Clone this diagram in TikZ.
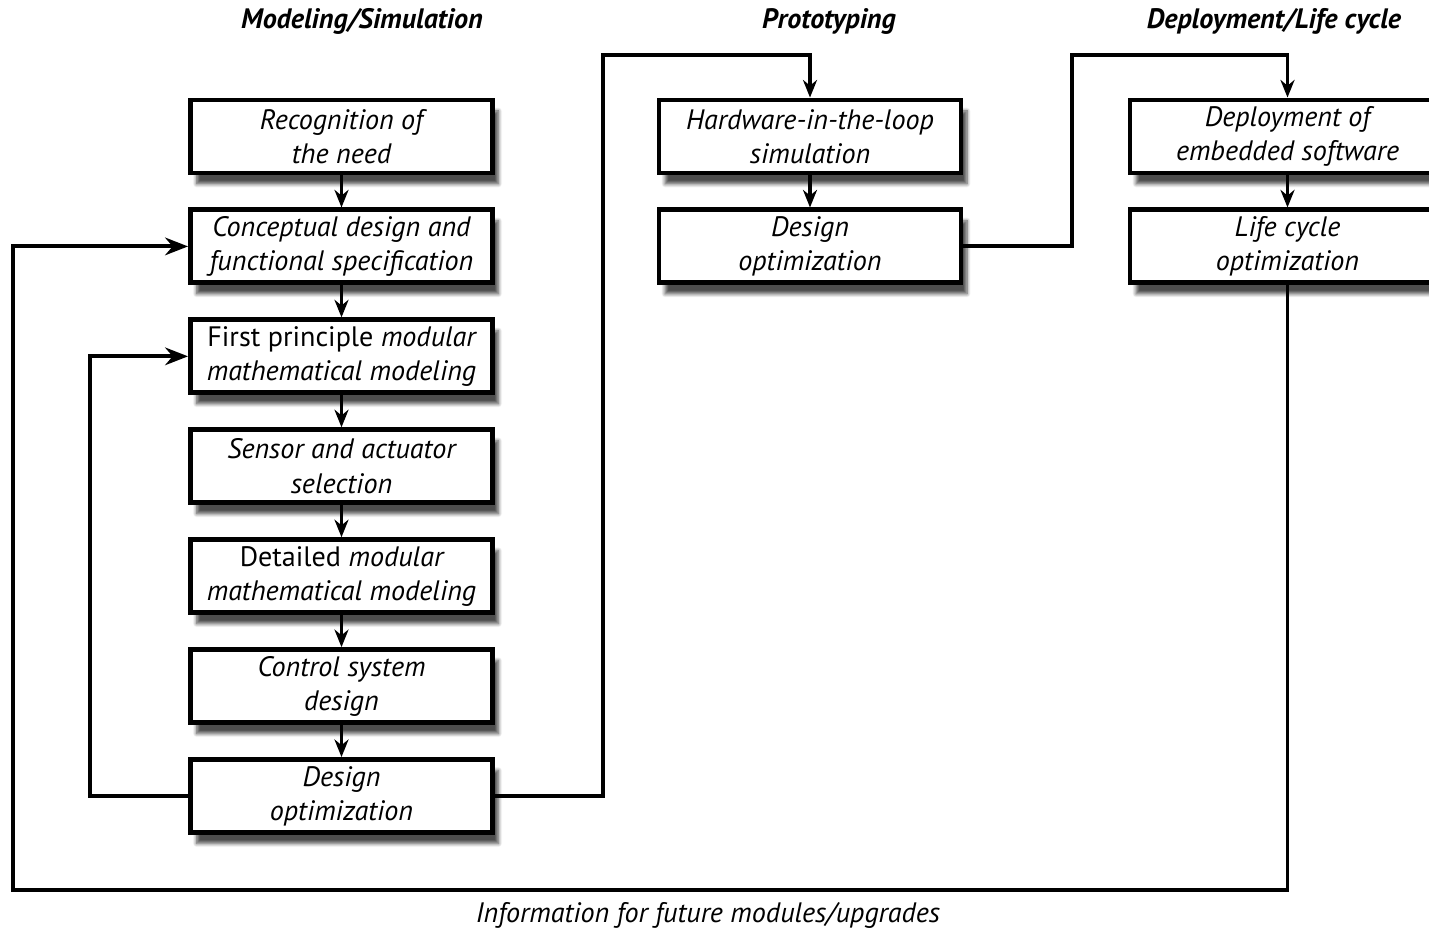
\documentclass[tikz,border=0pt]{standalone}
\usepackage{fontspec}
\setmainfont{PT Sans}
\usetikzlibrary{positioning,arrows.meta,shadows.blur}

\begin{document}
\begin{tikzpicture}[
    stagebox/.style={draw, line width=2.8pt, fill=white, minimum width=6.04cm, minimum height=1.46cm,
        align=center, font=\fontsize{16}{19.5}\selectfont\itshape, inner sep=2pt,
        blur shadow={shadow xshift=0.12cm, shadow yshift=-0.22cm, shadow opacity=70, shadow blur steps=8}},
    stagehead/.style={font=\fontsize{16}{18}\selectfont\bfseries\itshape},
    flow/.style={line width=2.2pt, -{Stealth[length=10pt,width=8pt]}},
    node distance=0.64cm]
  \useasboundingbox (0,0) rectangle (28.58,-18.6);

  % column heads
  \node[stagehead] (headmod) at (7.24,-0.42) {Modeling/Simulation};
  \node[stagehead] (headproto) at (16.58,-0.42) {Prototyping};
  \node[stagehead] (headdeploy) at (25.48,-0.42) {Deployment/Life cycle};

  % modeling / simulation
  \node[stagebox] (need) at (6.83,-2.73) {Recognition of\\the need};
  \node[stagebox, below=of need] (concept) {Conceptual design and\\functional specification};
  \node[stagebox, below=of concept] (firstmod) {{\upshape First principle} modular\\mathematical modeling};
  \node[stagebox, below=of firstmod] (sensor) {Sensor and actuator\\selection};
  \node[stagebox, below=of sensor] (detmod) {{\upshape Detailed} modular\\mathematical modeling};
  \node[stagebox, below=of detmod] (control) {Control system\\design};
  \node[stagebox, below=of control] (optsim) {Design\\optimization};

  % prototyping
  \node[stagebox] (hil) at (16.2,-2.73) {Hardware-in-the-loop\\simulation};
  \node[stagebox, below=of hil] (optproto) {Design\\optimization};

  % deployment / life cycle
  \node[stagebox, minimum width=6.3cm] (embed) at (25.75,-2.73) {Deployment of\\embedded software};
  \node[stagebox, minimum width=6.3cm, below=of embed] (life) {Life cycle\\optimization};

  \draw[flow] (need) -- (concept);
  \draw[flow] (concept) -- (firstmod);
  \draw[flow] (firstmod) -- (sensor);
  \draw[flow] (sensor) -- (detmod);
  \draw[flow] (detmod) -- (control);
  \draw[flow] (control) -- (optsim);
  \draw[flow] (hil) -- (optproto);
  \draw[flow] (embed) -- (life);

  % loops
  \coordinate (innerleft) at (1.8,-16.02);
  \coordinate (outerleft) at (0.26,-17.8);
  \coordinate (upproto) at (12.06,-1.1);
  \coordinate (updeploy) at (21.44,-1.1);
  \draw[flow, -{Stealth[length=13pt,width=10pt]}] (optsim.west) -- (optsim.west -| innerleft) |- (firstmod.west);
  \draw[flow, -{Stealth[length=13pt,width=10pt]}] (life.south) |- (outerleft) |- (concept.west);
  \draw[flow] (optsim.east) -| (upproto) -| (hil.north);
  \draw[flow] (optproto.east) -| (updeploy) -| (embed.north);

  \node[font=\fontsize{16}{18}\selectfont\itshape] (info) at (14.16,-18.3) {Information for future modules/upgrades};
\end{tikzpicture}
\end{document}
